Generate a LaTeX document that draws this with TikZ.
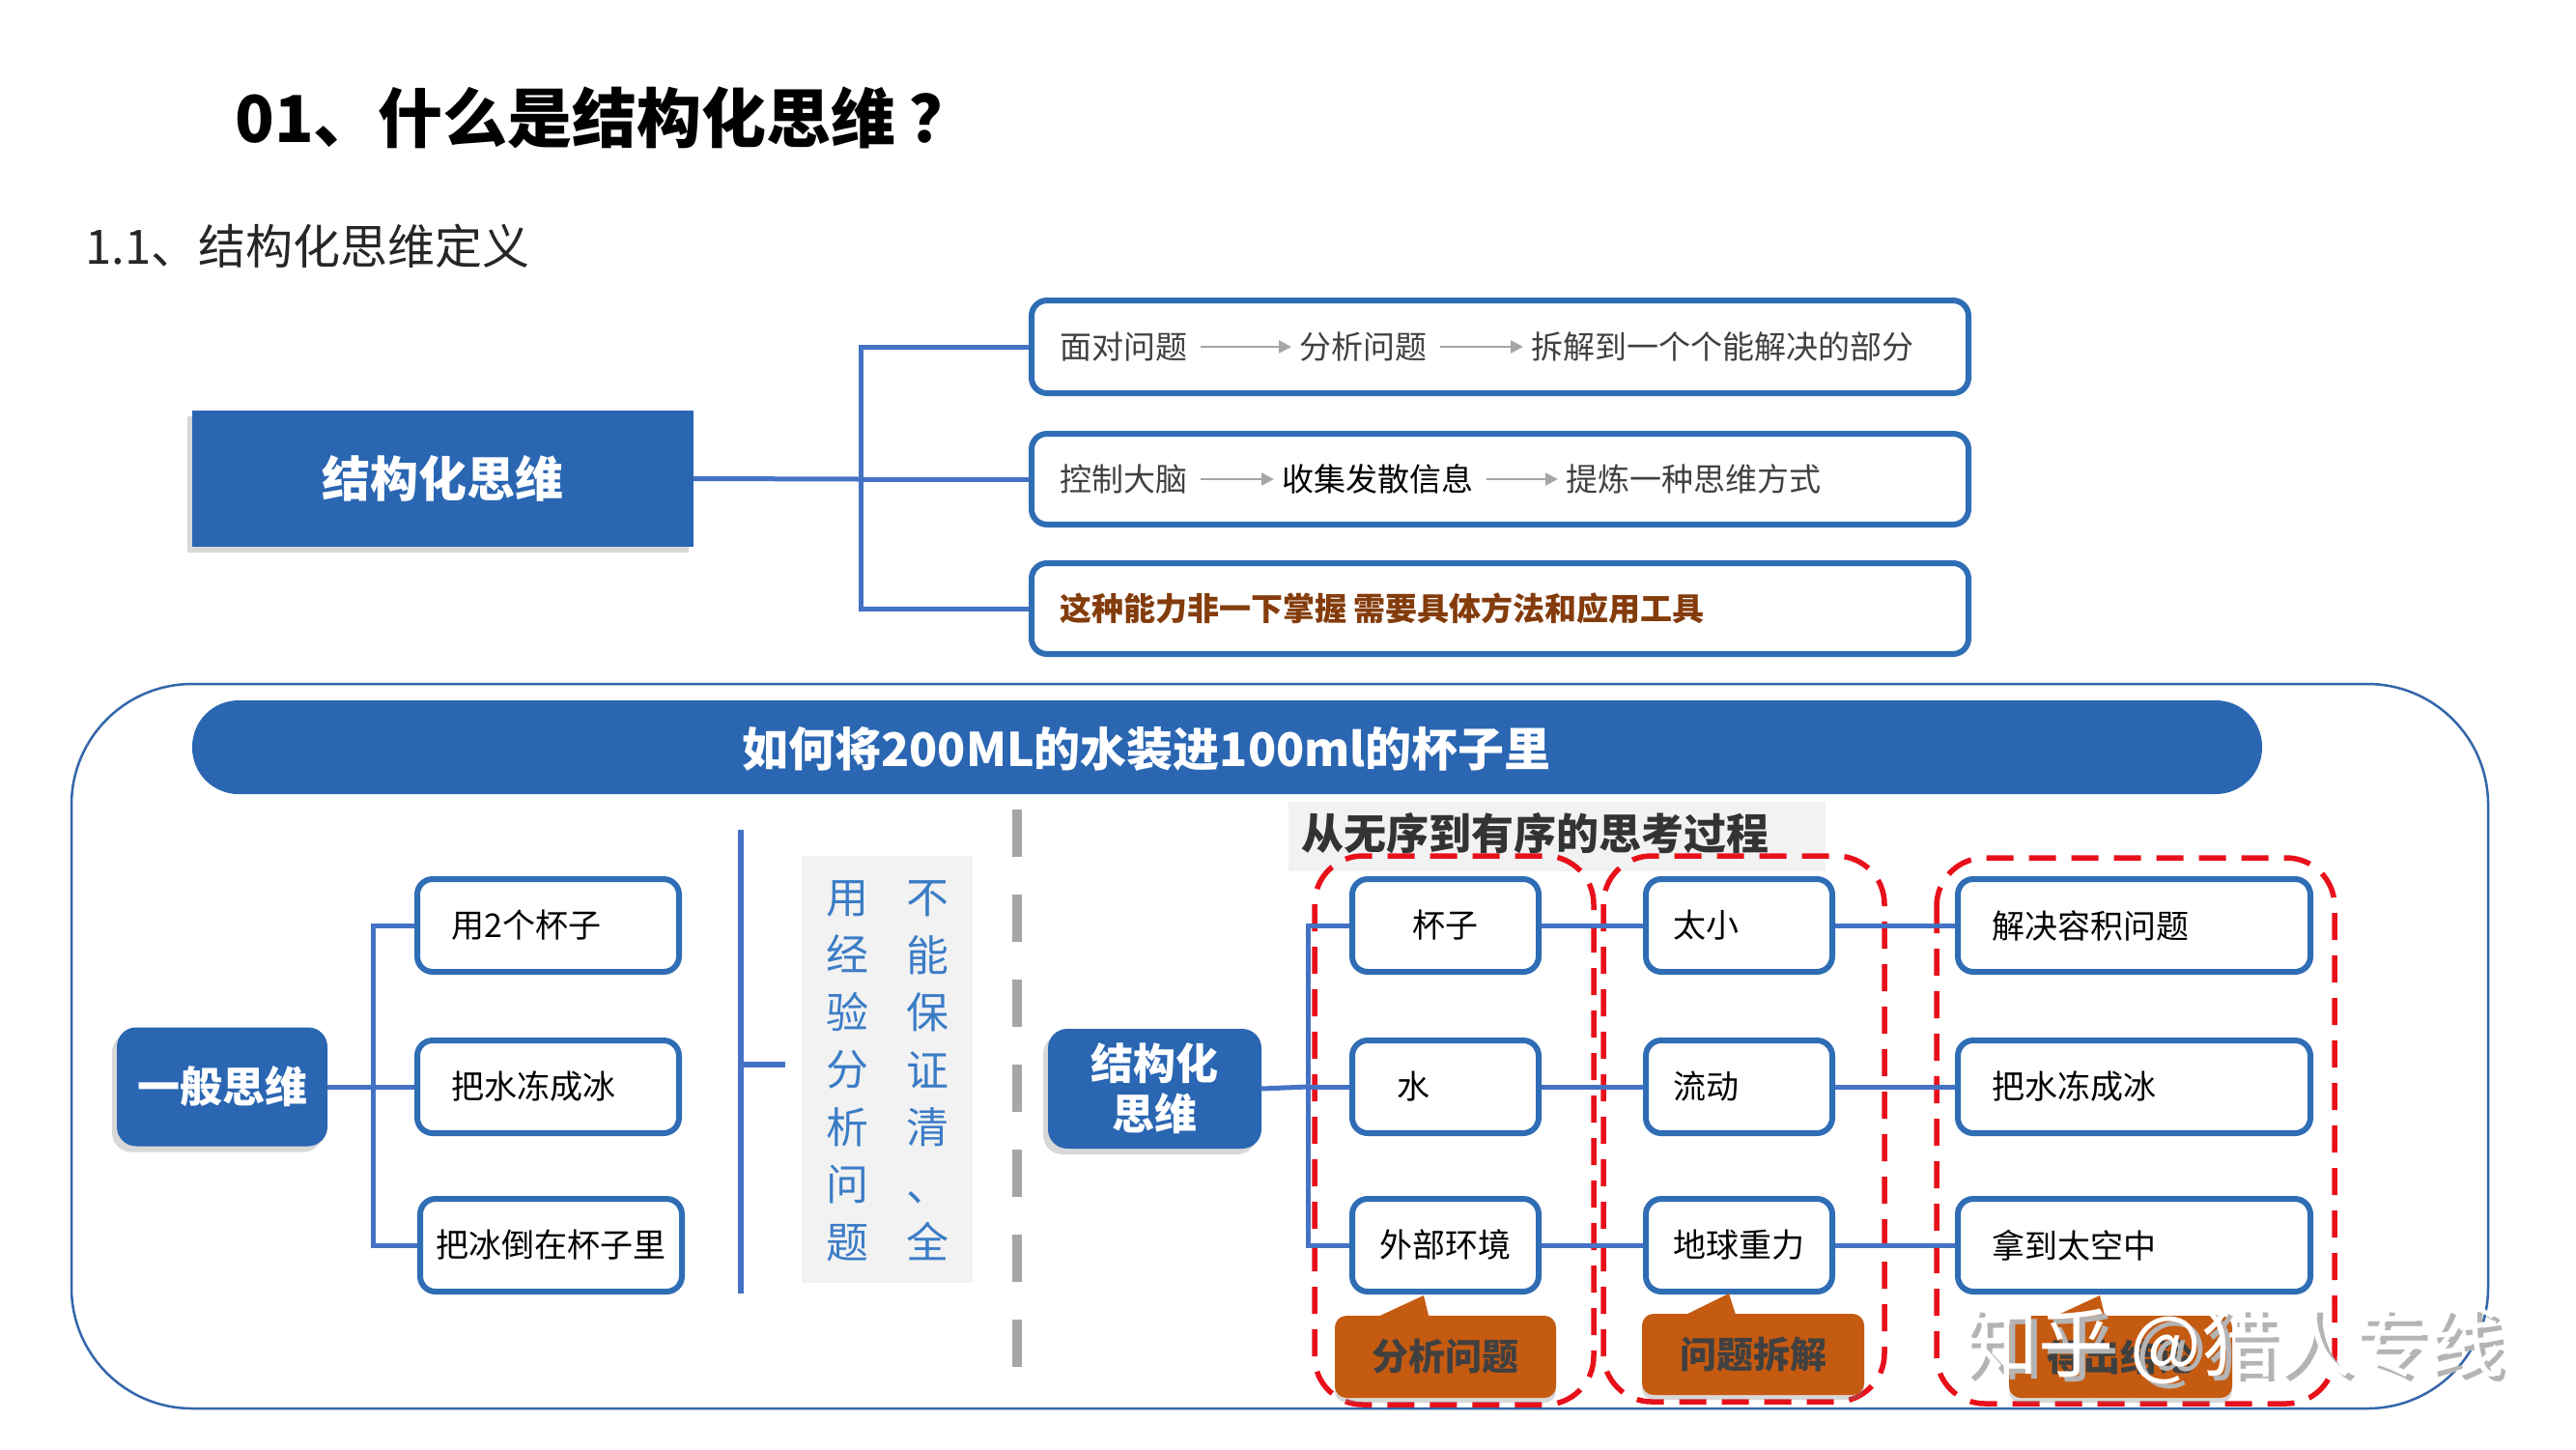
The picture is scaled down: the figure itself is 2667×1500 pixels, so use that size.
\documentclass[tikz,border=0pt]{standalone}
\usepackage{fontspec}
\setmainfont{Noto Sans CJK SC}
\usetikzlibrary{shadows,arrows.meta}
\definecolor{mainblue}{HTML}{2A66B2}
\definecolor{boxblue}{HTML}{2F6DB5}
\definecolor{lineblue}{HTML}{4472C4}
\definecolor{outerblue}{HTML}{3366AA}
\definecolor{vtblue}{HTML}{3B7CC6}
\definecolor{tgray}{HTML}{404040}
\definecolor{browntxt}{HTML}{843C0C}
\definecolor{callfill}{HTML}{C55A11}
\definecolor{redline}{HTML}{E8101A}
\definecolor{graybg}{HTML}{F2F2F2}
\definecolor{dashgray}{HTML}{A6A6A6}
\definecolor{arrgray}{HTML}{A6A6A6}
\definecolor{wmgray}{HTML}{B4B4B4}
\newcommand\myfs[2]{\fontsize{#1}{#2}\selectfont}
\tikzset{
  mainfill/.style={fill=mainblue, text=white, inner sep=0pt, align=center},
  wbox/.style={draw=boxblue, line width=6pt, rounded corners=16pt, fill=white, inner sep=0pt},
  conn/.style={draw=lineblue, line width=5pt},
  garr/.style={draw=arrgray, line width=2.5pt, -{Triangle[length=13pt,width=13pt]}, shorten <=14pt, shorten >=8pt},
  tt/.style={anchor=west, inner sep=0pt, text=tgray, font=\myfs{33}{40}},
  bt/.style={inner sep=0pt, text=black, font=\myfs{34}{40}},
  redframe/.style={draw=redline, line width=5.5pt, rounded corners=50pt, dash pattern=on 28pt off 16pt},
  callbox/.style={fill=callfill, rounded corners=12pt, inner sep=0pt, text=tgray, font=\myfs{38}{44}\bfseries, drop shadow={shadow xshift=0pt, shadow yshift=-5pt, opacity=.3}},
  vt/.style={inner sep=0pt, text=vtblue, align=center, font=\myfs{44}{59.5}},
  softshadow/.style={drop shadow={shadow xshift=-5pt, shadow yshift=-6pt, opacity=.3}},
}
\begin{document}
\begin{tikzpicture}[x=1pt,y=-1pt]
\fill[white] (0,0) rectangle (2667,1500);
\useasboundingbox (0,0) rectangle (2667,1500);

% titles
\node[anchor=west, inner sep=0pt, font=\myfs{67}{80}\bfseries] (title) at (243,122) {01、什么是结构化思维\hspace{14pt}？};
\node[anchor=west, inner sep=0pt, text=black!85, font=\myfs{49}{58}] (sub) at (88,255) {1.1、结构化思维定义};

% top section
\node[mainfill, minimum width=519pt, minimum height=141pt, font=\myfs{50}{60}\bfseries, softshadow] (main) at (458.5,495.5) {结构化思维};
\node[wbox, minimum width=970pt, minimum height=96pt] (tb1) at (1553,359) {};
\node[wbox, minimum width=970pt, minimum height=94pt] (tb2) at (1553,496) {};
\node[wbox, minimum width=970pt, minimum height=94pt] (tb3) at (1553,630) {};
\coordinate (j1) at (891,496);
\draw[conn] (main.east) -- (j1);
\draw[conn] (tb1.west) -| (j1) |- (tb3.west);
\draw[conn] (j1) -- (tb2.west);

\node[tt] (a1) at (1097,359) {面对问题};
\node[tt] (a2) at (1345,359) {分析问题};
\node[tt] (a3) at (1585,359) {拆解到一个个能解决的部分};
\draw[garr] (a1) -- (a2);
\draw[garr] (a2) -- (a3);
\node[tt] (b1) at (1097,496) {控制大脑};
\node[tt, text=black] (b2) at (1327,496) {收集发散信息};
\node[tt] (b3) at (1621,496) {提炼一种思维方式};
\draw[garr] (b1) -- (b2);
\draw[garr] (b2) -- (b3);
\node[tt, text=browntxt, font=\myfs{33}{40}\bfseries] (c1) at (1097,630) {这种能力非一下掌握 需要具体方法和应用工具};

% bottom panel
\node[draw=outerblue, line width=2.5pt, rounded corners=125pt, minimum width=2502pt, minimum height=750pt, inner sep=0pt] (panel) at (1325,1083) {};
\node[fill=mainblue, rounded corners=48pt, minimum width=2143pt, minimum height=97pt, inner sep=0pt] (banner) at (1270.5,773.5) {};
\node[inner sep=0pt, text=white, font=\myfs{48}{56}\bfseries] (bantxt) at (1187,775) {如何将200ML的水装进100ml的杯子里};

% left: general thinking
\node[mainfill, rounded corners=20pt, minimum width=218pt, minimum height=123pt, font=\myfs{44}{52}\bfseries, softshadow] (yb) at (230,1125) {一般思维};
\node[wbox, minimum width=271pt, minimum height=96pt, bt] (lb1) at (567.5,958) {\makebox[200pt][l]{用2个杯子}};
\node[wbox, minimum width=271pt, minimum height=96pt, bt] (lb2) at (567.5,1125) {\makebox[200pt][l]{把水冻成冰}};
\node[wbox, minimum width=271pt, minimum height=96pt, bt] (lb3) at (570.5,1289) {把冰倒在杯子里};
\coordinate (j2) at (386,1125);
\draw[conn] (yb.east) -- (j2);
\draw[conn] (lb1.west) -| (j2) |- (lb3.west);
\draw[conn] (j2) -- (lb2.west);

% bracket and vertical text
\coordinate (k1) at (767,859);
\coordinate (k2) at (767,1339);
\coordinate (k3) at (767,1102);
\coordinate (k4) at (813,1102);
\draw[conn, line width=6pt] (k1) -- (k2);
\draw[conn, line width=6pt] (k3) -- (k4);
\node[fill=graybg, minimum width=177pt, minimum height=442pt, inner sep=0pt] (vbg) at (918.5,1106.5) {};
\node[vt] (v1) at (877,1108.5) {用\\经\\验\\分\\析\\问\\题};
\node[vt] (v2) at (960,1108.5) {不\\能\\保\\证\\清\\、\\全};

% divider
\coordinate (d1) at (1053,838);
\coordinate (d2) at (1053,1420);
\draw[draw=dashgray, line width=10pt, dash pattern=on 49pt off 39pt] (d1) -- (d2);

% structured thinking
\node[fill=graybg, minimum width=556pt, minimum height=72pt, inner sep=0pt] (lbg) at (1611.5,865.5) {};
\draw[redframe] (1361,886) rectangle (1650,1454);
\draw[redframe] (1660,886) rectangle (1951,1451);
\draw[redframe] (2005,888) rectangle (2417,1453);
\node[anchor=west, inner sep=0pt, text=black!80, font=\myfs{44}{52}\bfseries] (lt) at (1347,863) {从无序到有序的思考过程};

\node[mainfill, rounded corners=20pt, minimum width=221pt, minimum height=124pt, font=\myfs{44}{52}\bfseries, softshadow] (sb) at (1195.5,1127) {结构化\\思维};

\node[wbox, minimum width=193pt, minimum height=96pt, bt] (c1a) at (1496.5,958) {杯子};
\node[wbox, minimum width=193pt, minimum height=96pt, bt] (c1b) at (1496.5,1125) {\makebox[100pt][l]{水}};
\node[wbox, minimum width=193pt, minimum height=96pt, bt] (c1c) at (1496.5,1289) {外部环境};
\node[wbox, minimum width=193pt, minimum height=96pt, bt] (c2a) at (1800.5,958) {\makebox[136pt][l]{太小}};
\node[wbox, minimum width=193pt, minimum height=96pt, bt] (c2b) at (1800.5,1125) {\makebox[136pt][l]{流动}};
\node[wbox, minimum width=193pt, minimum height=96pt, bt] (c2c) at (1800.5,1289) {地球重力};
\node[wbox, minimum width=365pt, minimum height=96pt, bt] (c3a) at (2209.5,958) {\makebox[295pt][l]{解决容积问题}};
\node[wbox, minimum width=365pt, minimum height=96pt, bt] (c3b) at (2209.5,1125) {\makebox[295pt][l]{把水冻成冰}};
\node[wbox, minimum width=365pt, minimum height=96pt, bt] (c3c) at (2209.5,1289) {\makebox[295pt][l]{拿到太空中}};

\coordinate (j3) at (1354,1125);
\draw[conn] (sb.east) -- (j3);
\draw[conn] (c1a.west) -| (j3) |- (c1c.west);
\draw[conn] (j3) -- (c1b.west);
\draw[conn] (c1a) -- (c2a);
\draw[conn] (c1b) -- (c2b);
\draw[conn] (c1c) -- (c2c);
\draw[conn] (c2a) -- (c3a);
\draw[conn] (c2b) -- (c3b);
\draw[conn] (c2c) -- (c3c);

% callouts
\fill[callfill] (1420,1366) -- (1474,1341) -- (1480,1366) -- cycle;
\node[callbox, minimum width=229pt, minimum height=85pt] (k1b) at (1496.5,1404.5) {分析问题};
\fill[callfill] (1739,1364) -- (1790,1339) -- (1798,1364) -- cycle;
\node[callbox, minimum width=230pt, minimum height=84pt] (k2b) at (1815,1402) {问题拆解};
\fill[callfill] (2120,1366) -- (2174,1341) -- (2180,1366) -- cycle;
\node[callbox, minimum width=231pt, minimum height=85pt] (k3b) at (2195.5,1404.5) {得出结论};

% watermark (overlaps the third callout, as in the reference)
\node[inner sep=0pt, text=wmgray, font=\myfs{78}{90}] (wm1) at (2318,1398) {知乎 @猎人专线};
\node[inner sep=0pt, text=white, font=\myfs{78}{90}] (wm2) at (2312,1393) {知乎 @猎人专线};
\end{tikzpicture}
\end{document}
